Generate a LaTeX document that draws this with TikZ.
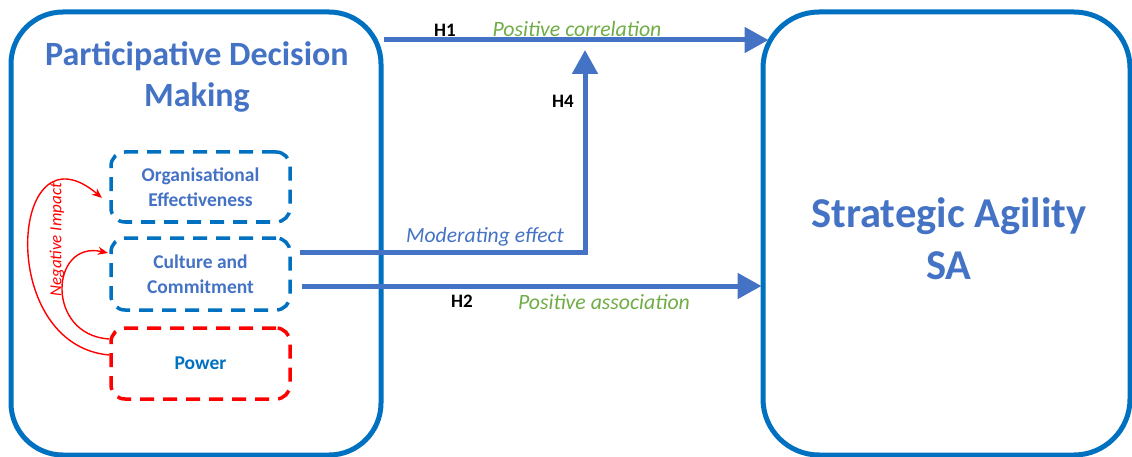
\documentclass[tikz,border=0pt]{standalone}
\usepackage{fontspec}
\setmainfont{Carlito}
\usetikzlibrary{arrows.meta}
\definecolor{boxblue}{HTML}{0070C0}
\definecolor{arrblue}{HTML}{4472C4}
\definecolor{posgreen}{HTML}{70AD47}
\definecolor{negred}{HTML}{FF0000}
\tikzset{
  bigbox/.style={draw=boxblue, line width=5pt, rounded corners=52pt, fill=none},
  dashbox/.style={draw=boxblue, line width=3.5pt, rounded corners=14pt, dash pattern=on 14pt off 9pt,
    minimum width=179pt, minimum height=70pt, align=center, text=arrblue,
    font=\fontsize{19.5}{25}\selectfont\bfseries},
  redbox/.style={dashbox, draw=negred, text=boxblue},
  title/.style={text=arrblue, align=center, font=\fontsize{34}{41}\selectfont\bfseries},
  bigtitle/.style={text=arrblue, align=center, font=\fontsize{42.5}{52}\selectfont\bfseries},
  arr/.style={draw=arrblue, line width=5pt, -{Triangle[length=24pt,width=25pt]}},
  hlab/.style={text=black, font=\fontsize{19}{22}\selectfont\bfseries},
  glab/.style={text=posgreen, font=\fontsize{21.8}{24}\selectfont\itshape},
  mlab/.style={text=arrblue, font=\fontsize{21.6}{24}\selectfont\itshape},
  redarr/.style={draw=negred, line width=1.4pt, -{Stealth[length=10pt,width=8pt,inset=3pt]}},
}
\begin{document}
\begin{tikzpicture}[x=1pt,y=-1pt]
\useasboundingbox[fill=white] (0,0) rectangle (1132,457);
% big boxes
\node[bigbox, minimum width=370pt, minimum height=443pt] (pdm) at (196,233.5) {};
\node[bigbox, minimum width=367pt, minimum height=443pt, rounded corners=56pt] (sa) at (946.5,233.5) {};
% titles
\node[title] (pdmt) at (197,77) {Participative Decision\\Making};
\node[bigtitle] (sat) at (949,239) {Strategic Agility\\SA};
% inner boxes
\node[dashbox] (oe) at (200.5,187) {Organisational\\Effectiveness};
\node[dashbox, minimum height=72pt] (cc) at (200.5,274) {Culture and\\Commitment};
\node[redbox, minimum height=71pt] (pw) at (200.5,363.5) {Power};
% coordinates for connector levels
\coordinate (h1y) at (0,40);
\coordinate (h2y) at (0,286);
\coordinate (h4y) at (0,252);
\coordinate (h4top) at (585,50);
% H1
\draw[arr, shorten >=-8pt] (pdm.east |- h1y) -- (sa.west |- h1y);
% H2
\draw[arr, shorten >=-1pt] ([xshift=10pt]cc.east |- h2y) -- (sa.west |- h2y);
% H4 moderating
\draw[arr] ([xshift=8pt]cc.east |- h4y) -| (h4top);
% labels
\node[hlab] (lh1) at (445,30) {H1};
\node[glab] (lpc) at (577,29) {Positive correlation};
\node[hlab] (lh4) at (563,101) {H4};
\node[mlab] (lme) at (485,237) {Moderating effect};
\node[hlab] (lh2) at (462,301) {H2};
\node[glab] (lpa) at (604,302) {Positive association};
% red negative impact arrows
\coordinate (o1) at (pw.west |- 0,355);
\coordinate (o2) at (102,198);
\coordinate (i1) at (pw.west |- 0,339);
\coordinate (i2) at (108,253);
\draw[redarr] (o1) .. controls (-5,345) and (10,120) .. (o2);
\draw[redarr] (i1) .. controls (45,335) and (50,240) .. (i2);
\node[text=negred, rotate=90, font=\fontsize{17}{19}\selectfont\itshape] (neg) at (57,240) {Negative Impact};
\end{tikzpicture}
\end{document}
